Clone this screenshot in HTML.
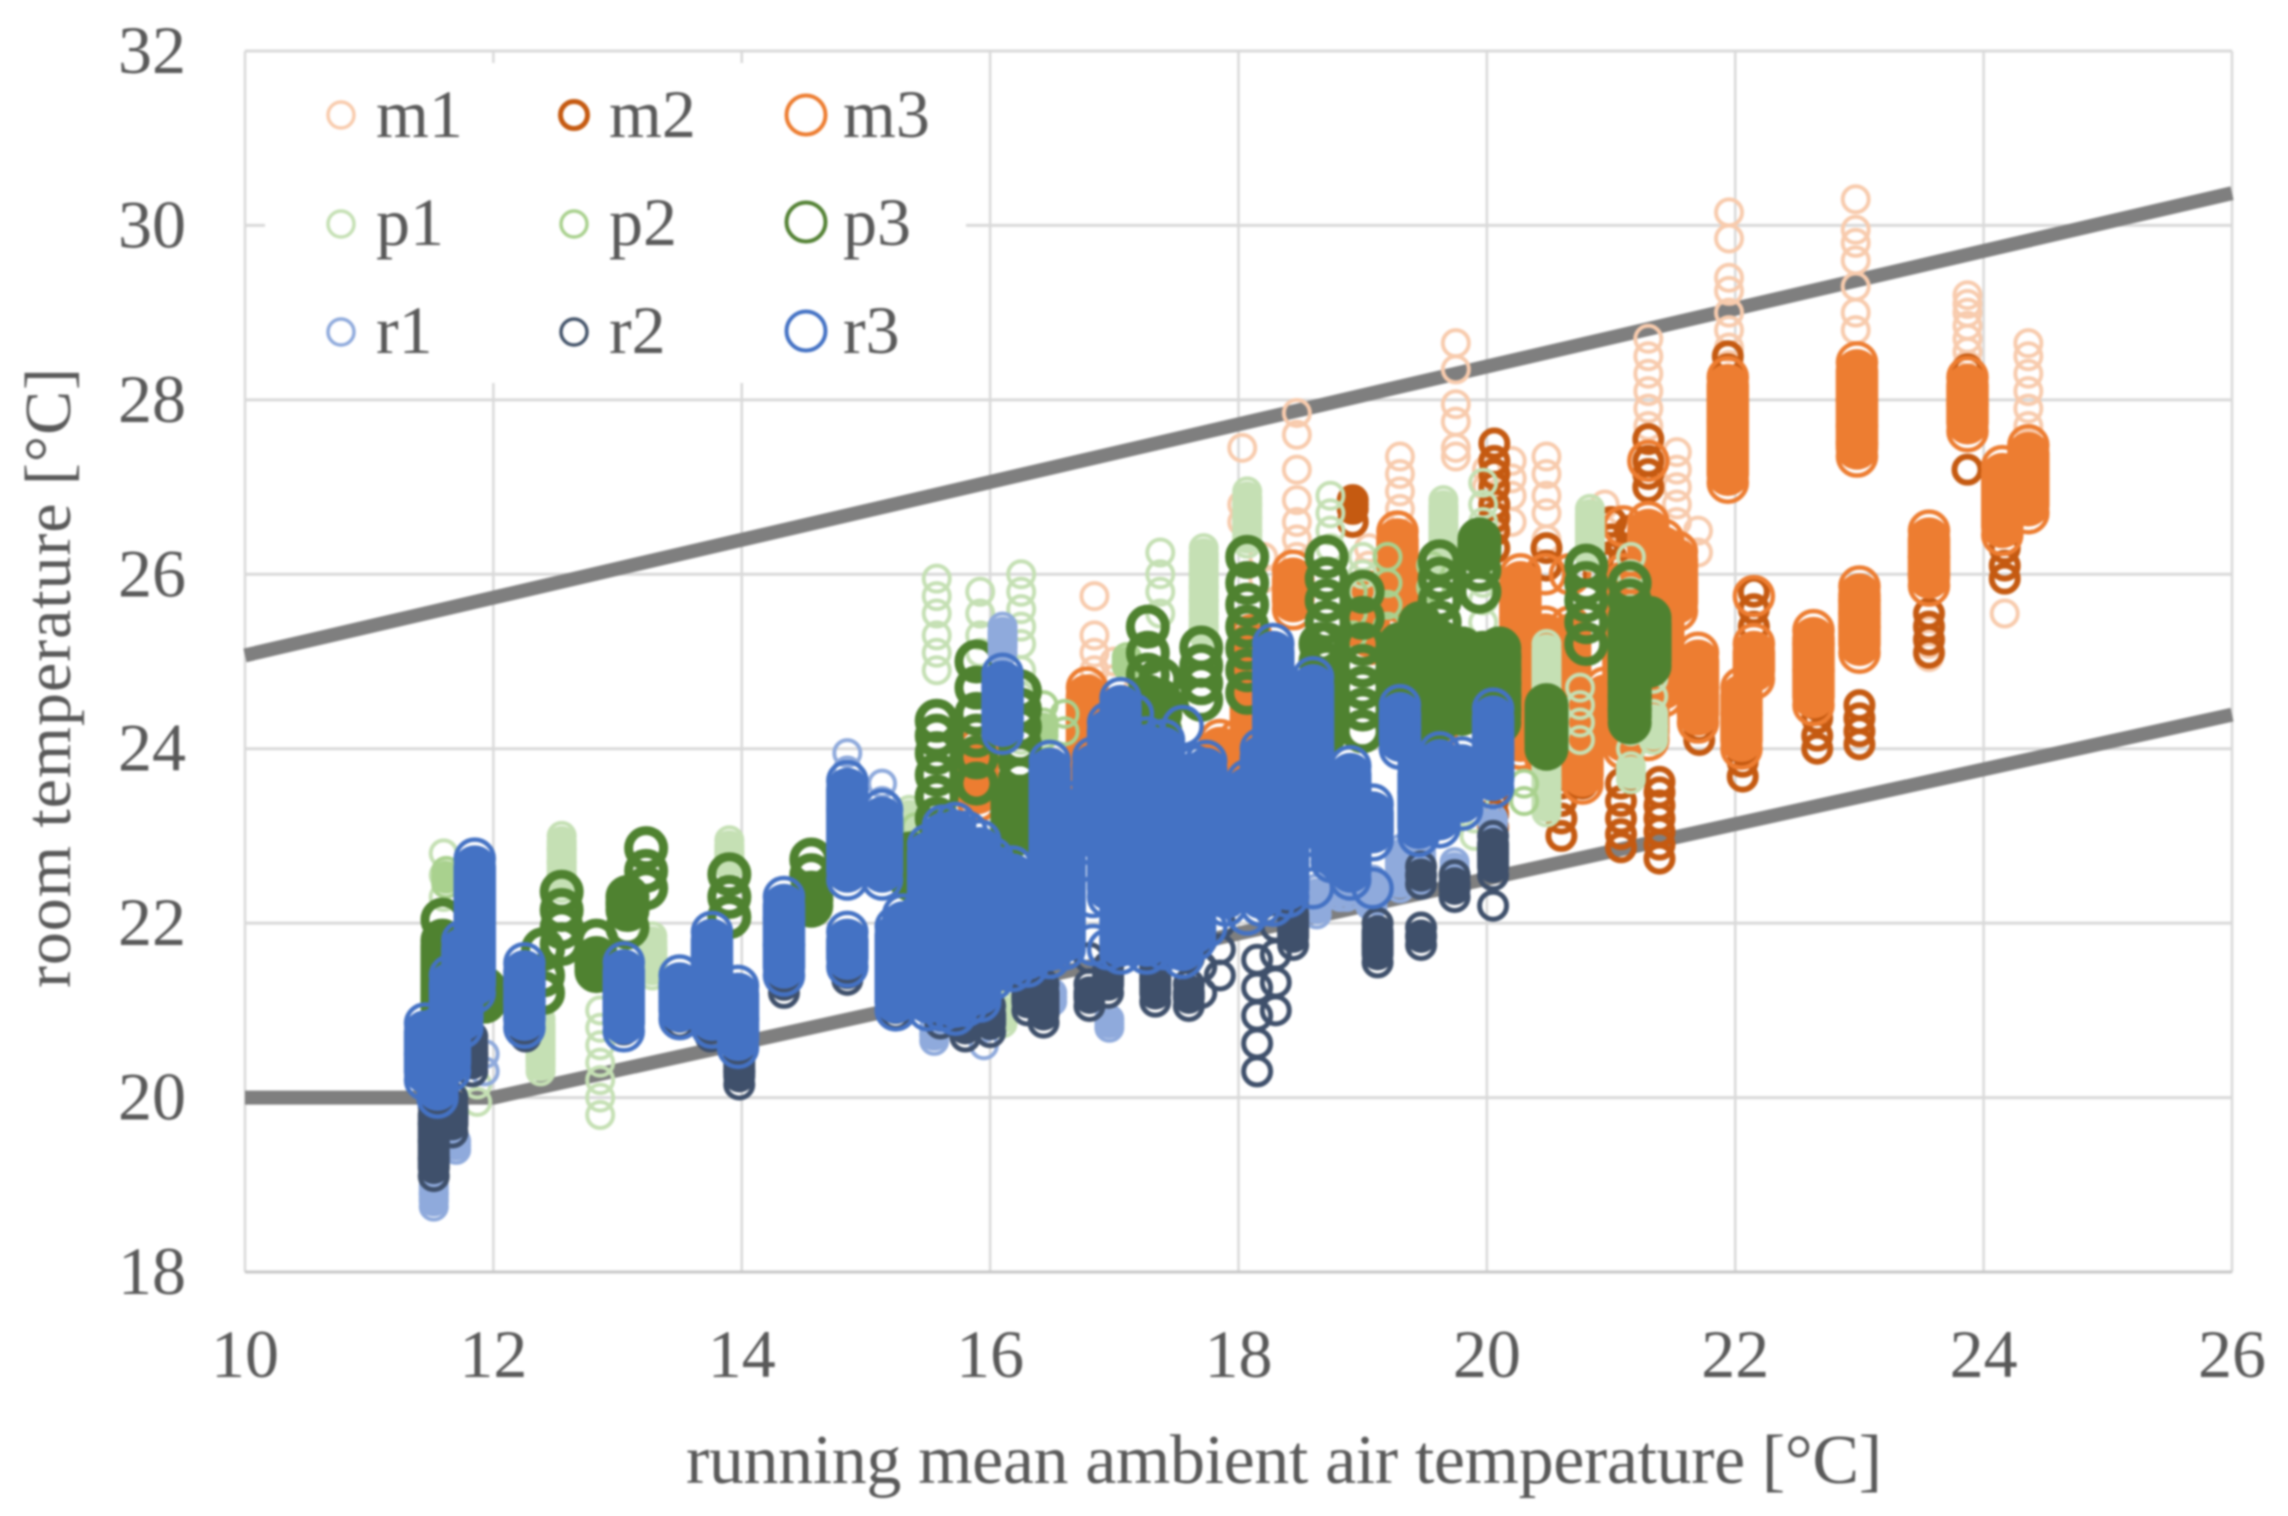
<!DOCTYPE html>
<html lang="en">
<head>
<meta charset="utf-8">
<title>Room temperature vs running mean ambient air temperature</title>
<style>
html,body{margin:0;padding:0;background:#fff;width:2288px;height:1516px;overflow:hidden}
svg{display:block;filter:blur(1.1px)}
text{font-family:"Liberation Serif",serif;fill:#595959}
</style>
</head>
<body>
<svg id="chart" xmlns="http://www.w3.org/2000/svg" width="2288" height="1516" viewBox="0 0 2288 1516">
<rect x="0" y="0" width="2288" height="1516" fill="#ffffff"/>
<g id="grid"></g>
<g id="limits"></g>
<g id="marks"></g>
<g id="ticks"></g>
<text x="1284" y="1483" font-size="70" text-anchor="middle" textLength="1196">running mean ambient air temperature [°C]</text>
<text transform="translate(70,678) rotate(-90)" font-size="66" text-anchor="middle" textLength="620">room temperature [°C]</text>
<g>
<rect x="265" y="63" width="701" height="320" fill="#ffffff"/>
<g><circle cx="341" cy="115" r="13" fill="none" stroke="#F8CBAD" stroke-width="3.5"/><text x="376" y="137" font-size="68">m1</text></g>
<g><circle cx="574" cy="115" r="13.5" fill="none" stroke="#C55A11" stroke-width="5"/><text x="609" y="137" font-size="68">m2</text></g>
<g><circle cx="806" cy="115" r="19.5" fill="none" stroke="#ED7D31" stroke-width="4"/><text x="843" y="137" font-size="68">m3</text></g>
<g><circle cx="341" cy="224" r="13" fill="none" stroke="#C5E0B4" stroke-width="3.5"/><text x="376" y="245" font-size="68">p1</text></g>
<g><circle cx="574" cy="224" r="13" fill="none" stroke="#A9D18E" stroke-width="3.5"/><text x="609" y="245" font-size="68">p2</text></g>
<g><circle cx="806" cy="222" r="19.5" fill="none" stroke="#548235" stroke-width="4"/><text x="843" y="245" font-size="68">p3</text></g>
<g><circle cx="341" cy="332" r="13" fill="none" stroke="#8FAADC" stroke-width="3.5"/><text x="376" y="353" font-size="68">r1</text></g>
<g><circle cx="574" cy="332" r="13" fill="none" stroke="#44546A" stroke-width="3.5"/><text x="609" y="353" font-size="68">r2</text></g>
<g><circle cx="806" cy="331" r="19.5" fill="none" stroke="#4472C4" stroke-width="4"/><text x="843" y="353" font-size="68">r3</text></g>
</g>
</svg>
<script>
const xTickLabels=[10,12,14,16,18,20,22,24,26];
const yTickLabels=[18,20,22,24,26,28,30,32];
const upperLimitX=[10,26];
const upperLimitY=[25.07,30.37];
const lowerLimitX=[10,12,26];
const lowerLimitY=[20,20,24.39];

const m1X=[21.95,22.97,23.87,24.36,23.56,24.17,21.3,21.53,19.75,18.47,18.03,19.3,20.48,20,20.95,16.84,17,15.9,20.2,19.05,21.7,18.2];
const m1Y=[[30.15,29.85,29.4,29.25,29,28.8,28.6,28.4],[30.3,29.95,29.8,29.6,29.3,29,28.8],[29.2,29.1,29,28.85,28.7,28.55,28.4],[28.65,28.5,28.3,28.1,27.9,27.7,27.5],[25.05,25.2,25.35],[25.55],[28.7,28.5,28.3,28.1,27.9,27.7],[27.4,27.2,27,26.8,26.6],[28.65,28.35,27.95,27.75,27.45,27.35],[27.85,27.6,27.2,26.85,26.6,26.4,26.2],[27.45,26.8,26.6],[27.35,27.15,26.95,26.75,26.55],[27.35,27.15,26.9,26.7,26.4],[27.2,27],[26.8,26.5],[25.75,25.3,25.1,24.9,24.7],[25,24.8],[24,23.8,23.6],[27.3,27.1,26.9,26.6],[26.3,26.1],[26.5,26.25],[26.2,25.95]];

const m2X=[20.6,20.77,21.08,21.39,21.71,22.06,22.66,23,22.15,23.56,23.87,23.87,21.94,21.3,24.17,20.06,18.92,20.48,21,20.05,21.15,20.9];
const m2Y=[[23,23.2,23.4,23.6],[23.6,23.75,23.95],[22.87,23.02,23.2,23.4,23.6],[22.74,22.9,23.05,23.2,23.35,23.5,23.62],[24.1,24.25,24.4],[23.68,23.85,24,24.2,24.35],[24,24.15,24.35,24.5],[24.05,24.2,24.35,24.5],[25.4,25.6,25.8],[25.1,25.25,25.4,25.55],[27.2],[28.2,28.35],[28.2,28.35,28.5],[27,27.15,27.3,27.55],[25.95,26.1,26.3],[26.3,26.5,26.65,26.8,27,27.15,27.3,27.5],[26.6,26.75,26.85],[26.1,26.3],[26.2,26.4,26.6],[23.1,23.25,23.4,23.6,23.8],[26.3,26.5],[26.2,26]];

const m3X=[21.94,22.98,23.87,24.36,24.15,23.56,23,22.63,22.15,22.05,21.7,21.53,21.3,21.1,21.42,20.27,20.47,20.67,20.77,19.28,18.44,17.85,18,16.78,15.9,18.1,19.05,19.6,20.95];
const m3Y=[[27.05,27.35,27.75,28.26],[27.35,27.5,27.7,28,28.43],[27.64,27.95,28.26],[26.7,27.1,27.48],[26.45,26.85,27.24],[25.87,26.2,26.5],[25.1,25.4,25.55,25.7,25.86],[24.5,24.9,25.2,25.36],[24.8,25.2,25.75],[24,24.4,24.7],[24.3,24.7,25.1],[25.58,25.9,26.26],[24.1,24.6,25.1,25.6,26.1,26.6,27.3],[24,24.5,25,25.5,26,26.55],[24.6,25.1,25.6,26.1,26.4],[24,24.5,25,25.5,26],[23.9,24.4,24.9,25.4,26],[23.9,24.4,24.9,25.4,26],[23.6,24,24.4],[25.6,25.85,26.1,26.3,26.49],[25.6,25.85,26.04],[23.3,23.7,24.1],[23.3,23.7,24.1],[23.6,23.95,24.25,24.5,24.7],[23.4,23.7,24],[24,24.5,25,25.3],[25.2,25.5,25.8],[24.2,24.7,25.2],[24.2,24.7]];

const p1X=[15.57,15.92,16.25,17.37,17.72,18.07,18.74,19.65,19.97,20.83,20.48,19,21.16,21.34,20.75,11.6,11.87,12.55,12.38,12.86,13.28,13.9,15.35,16.1,19.24,19.9];
const p1Y=[[25.95,25.75,25.55,25.3,25.1,24.9],[25.8,25.55,25.3,25.1],[26,25.8,25.6,25.4,25.2,24.9,24.6,24.35,24.1],[26.25,26,25.8,25.55],[26.3,26.15,26,25.85,25.7,25.55,25.4,25.3],[26.95,26.8,26.65,26.5,26.35],[26.9,26.7,26.5,26.3],[26.85,26.7,26.55,26.4,26.25,26.1],[27.05,26.8,26.6,26.3,26.1,25.9,25.7,25.45],[26.75,26.6,26.45,26.3,26.2],[23.27,23.42,23.57,23.72,23.87,24.02,24.17,24.32,24.47,24.62,24.77,24.92,25.07,25.2],[26.2,26,25.8],[26.2,26,25.8,25.6,25.4,25.2,25,24.8,24.6,24.4,24.2,24,23.8,23.65],[25.4,25.2,25,24.8,24.6,24.4,24.25,24.1],[24.7,24.5,24.3,24.1],[22.8,22.55,22.3],[19.95,20.15],[23,22.85,22.7,22.55,22.4],[20.3,20.45,20.6,20.75,20.9],[19.8,20,20.2,20.4,20.6,20.8,21],[21.4,21.55,21.7,21.85],[22.95,22.8,22.65],[23,23.15,23.3],[20.85,20.95,21.05],[25.1,24.85,24.6,24.35],[23,23.2,23.4]];

const p2X=[16.43,18.92,19.2,17.1,11.62,19.55,20.3,15.4,16.6];
const p2Y=[[24.15,24.3,24.5],[25.8,25.55,25.3],[26.2,25.9,25.65,25.4],[24.95,25.05],[22.45,22.6],[26.1,25.85],[23.4,23.6],[22.9,23.1],[24.4,24.2]];

const p3X=[11.59,11.93,12.4,12.55,12.83,13.08,13.23,13.9,14.56,15.36,15.57,15.89,16.24,16.18,17.27,17.37,17.7,18.07,18.71,19,18.66,19.3,19.62,19.46,19.8,20.1,19.94,19.97,20.48,20.8,21.15,21.31];
const p3Y=[[21.05,21.2,21.35,21.5,21.65,21.8,22.04],[21.1,21.25],[21.2,21.4,21.7],[21.76,21.95,22.15,22.36],[21.45,21.6,21.8],[21.95,22.15,22.3],[22.4,22.6,22.86],[22.07,22.3,22.56],[22.2,22.35,22.55,22.73],[22.5,22.65,22.8],[23.2,23.45,23.7,23.95,24.15,24.32],[23.6,23.9,24.15,24.4,24.7,25],[22.67,22.85,23.05,23.25,23.45,23.65,23.85,24.05,24.25,24.45,24.66],[23,23.15,23.3,23.45],[24.6,24.85,25.1,25.4],[24.2,24.4,24.55,24.8],[24.56,24.75,24.95,25.16],[24.64,24.9,25.15,25.4,25.65,25.9,26.2],[24.2,24.45,24.7,24.95,25.2,25.45,25.7,25.95,26.2],[24.2,24.45,24.7,24.95,25.2,25.5,25.8],[24.1,24.3,24.5,24.75,25,25.2],[24.3,24.45,24.6,24.75,24.9,25.05,25.2],[24.33,24.48,24.63,24.78,24.93,25.08,25.23,25.45,25.7,25.95,26.15],[24.24,24.39,24.54,24.69,24.84,24.99,25.14,25.29,25.44],[24.4,24.55,24.7,24.85,25,25.15],[24.3,24.45,24.6,24.75,24.9,25.05,25.15],[25.8,26.05,26.25,26.4],[24.7,24.85,25,25.1],[24,24.15,24.3,24.45,24.5],[25.2,25.45,25.7,25.9,26.1],[24.3,24.45,24.6,24.75,24.9,25.05,25.2,25.35,25.5,25.7,25.9],[24.95,25.1,25.25,25.4,25.5]];

const r1X=[11.52,11.7,11.93,14.85,15.13,16.1,15.55,15.95,16.96,18.87,18.63,19.08,17.4,18.82,19.06,19.47,19.74,20.05,19.3,16.5];
const r1Y=[[18.75,18.9,19.05],[19.4,19.5],[20.3,20.5],[23.95,23.75],[23.4,23.6],[25.4,25.25,25.1],[20.65,20.8],[20.6,20.8],[20.9,20.8],[22.3,22.45,22.6,22.7],[22.1,22.25,22.4],[22.2,22.35,22.5],[21.6,21.75,21.9],[22.3,22.45,22.55],[22.2,22.35,22.5],[22.5,22.65,22.8,22.95],[22.4,22.55,22.7],[23.2,23.05],[22.4,22.55,22.7,22.85],[21.1,21.2]];

const r2X=[11.52,11.67,11.83,12.26,13.05,13.5,13.75,13.98,14.34,14.85,15.24,15.6,15.8,16,16.3,16.43,16.8,16.95,17.33,17.6,17.7,17.85,18.15,18.3,18.44,19.12,19.47,19.47,19.74,20.05];
const r2Y=[[19.1,19.3,19.5,19.7,19.9],[19.6,19.8,20],[20.3,20.5,20.7],[20.7,20.85],[20.78,20.95],[20.85,21],[20.7,20.9],[20.15,20.3,20.45,20.65],[21.2,21.35,21.5],[21.35,21.5],[20.95,21.1],[20.85,21,21.1],[20.7,20.85,21],[20.75,20.9,21.05],[21,21.15,21.3],[20.86,21.05,21.3],[21.05,21.3,21.6],[21.2,21.35,21.5],[21.1,21.35,21.6,21.9],[21.05,21.3,21.6,21.9],[21.2,21.5,21.8],[21.4,21.7,22],[20.3,20.62,20.94,21.26,21.58],[21,21.32,21.64,21.96],[21.75,21.95,22.2],[21.55,21.75,22],[21.75,21.95],[22.45,22.65],[22.3,22.45,22.55],[22.2,22.55,22.8,23]];

const r3X=[11.45,11.55,11.65,11.75,11.85,12.25,13.05,13.5,13.76,13.97,14.34,14.85,14.85,15.13,15.24,15.3,15.43,15.5,15.62,15.72,15.81,15.92,16.02,16.18,16.1,16.3,16.48,16.6,16.83,16.95,17.05,17.15,17.26,17.4,17.55,17.65,17.74,17.9,18.07,18.18,18.28,18.4,18.6,18.75,18.9,18.9,19.08,19.3,19.45,19.62,19.8,20.05];
const r3Y=[[20.2,20.5,20.85],[20,20.3,20.55,20.8],[20.3,20.7,21,21.4],[20.8,21.15,21.5,21.8],[21.2,21.6,22,22.4,22.74],[20.8,21.1,21.3,21.54],[20.76,21.05,21.3,21.55],[20.9,21.1,21.4],[20.8,21.15,21.5,21.9],[20.57,20.9,21.28],[21.4,21.75,22.05,22.3],[22.5,22.9,23.3,23.63],[21.5,21.7,21.9],[22.5,22.9,23.3],[21,21.4,21.7,21.96],[21.2,21.7,22.1],[21.2,21.6,22.1],[21,21.5,22,22.5,22.9],[21,21.5,22,22.5,22.8,23.12],[20.95,21.4,21.9,22.4,22.9,23.15],[21.05,21.5,22,22.5,23.05],[21.1,21.6,22.1,22.6,22.95],[21.35,21.8,22.3,22.75],[21.45,21.9,22.3,22.65],[24.17,24.5,24.86],[21.5,22,22.5],[21.6,22.1,22.6,23.1,23.5,23.86],[21.7,22.2,22.7,23.2,23.4],[21.75,22.3,22.9,23.4,23.9],[21.7,22.3,22.8,23.3,23.8,24.3],[21.65,22.15,22.8,23.3,23.8,24.2,24.58],[21.75,22.3,22.8,23.3,23.8,24.4],[21.65,22.15,22.75,23.25,23.7,24.13],[21.7,22.2,22.7,23.2,23.7,24.1],[21.6,22.1,22.7,23.2,23.7,24.26],[21.8,22.3,22.8,23.3,23.8],[21.95,22.5,23,23.4,23.86],[22.2,22.5,22.76],[22.1,22.7,23.2,23.64],[22.2,22.7,23.2,23.7,24],[22.2,22.8,23.3,23.8,24.3,24.8,25.2],[22.3,22.8,23.3,23.8,24.3],[22.4,23,23.5,24,24.4,24.82],[22.7,23.2,23.6],[23.1,23.45,23.8],[22.5,22.8,23],[22.4,22.95,23.36],[24,24.25,24.5],[23,23.5,23.8],[23.1,23.6,23.96],[23.3,23.7,23.9],[23.55,24,24.46]];

const seriesNames=['m1','m2','m3','p1','p2','p3','r1','r2','r3'];
const seriesColors=['#F8CBAD','#C55A11','#ED7D31','#C5E0B4','#A9D18E','#4F8230','#8FAADC','#3F506B','#4472C4'];
const seriesRadius=[13,13,19,13,13,17.5,13,13.5,19];
const seriesStroke=[4,6,4.5,4,4,9,4,5,4.5];
const solidGap=[0.05,0.12,0.55,0.16,0.16,0.16,0.16,0.3,0.55];
const capShift=[4,6,8,5,5,5,5,8,8];
const seriesX=[m1X,m2X,m3X,p1X,p2X,p3X,r1X,r2X,r3X];
const seriesY=[m1Y,m2Y,m3Y,p1Y,p2Y,p3Y,r1Y,r2Y,r3Y];

const NS='http://www.w3.org/2000/svg';
const xMin=10,xMax=26,yMin=18,yMax=32;
const left=245,right=2232,top_=51,bottom=1272;
function xs(v){return left+(v-xMin)/(xMax-xMin)*(right-left);}
function ys(v){return bottom-(v-yMin)/(yMax-yMin)*(bottom-top_);}

const gridG=document.getElementById('grid');
xTickLabels.forEach(function(t){
  const l=document.createElementNS(NS,'line');
  
  
  l.setAttribute('x1',xs(t));l.setAttribute('x2',xs(t));
  l.setAttribute('y1',ys(yMin));l.setAttribute('y2',ys(yMax));
  l.setAttribute('stroke','#d9d9d9');l.setAttribute('stroke-width','2.5');
  gridG.appendChild(l);
});
yTickLabels.forEach(function(t){
  const l=document.createElementNS(NS,'line');
  
  
  l.setAttribute('x1',xs(xMin));l.setAttribute('x2',xs(xMax));
  l.setAttribute('y1',ys(t));l.setAttribute('y2',ys(t));
  l.setAttribute('stroke',t===yMin?'#c8c8c8':'#d9d9d9');l.setAttribute('stroke-width','3');
  gridG.appendChild(l);
});

const limitsG=document.getElementById('limits');
function limitLine(xa,ya){
  const p=document.createElementNS(NS,'polyline');
  
  
  p.setAttribute('points',xa.map(function(v,i){return xs(v)+','+ys(ya[i]);}).join(' '));
  p.setAttribute('fill','none');p.setAttribute('stroke','#7f7f7f');p.setAttribute('stroke-width','14');
  limitsG.appendChild(p);
}
limitLine(upperLimitX,upperLimitY);
limitLine(lowerLimitX,lowerLimitY);

const marksG=document.getElementById('marks');
seriesNames.forEach(function(name,s){
  const g=document.createElementNS(NS,'g');
  
  
  const r=seriesRadius[s],sw=seriesStroke[s],col=seriesColors[s],shift=capShift[s];
  seriesX[s].forEach(function(x,c){
    const vals=seriesY[s][c].slice().sort(function(a,b){return a-b;});
    let start=0;
    vals.forEach(function(y,i){
      if(i===vals.length-1||vals[i+1]-y>solidGap[s]){
        if(i>start){
          let lo=ys(vals[start])-shift,hi=ys(y)+shift;
          if(hi>lo){const mid=(lo+hi)/2;lo=mid;hi=mid;}
          const b=document.createElementNS(NS,'line');
          
          
          b.setAttribute('x1',xs(x));b.setAttribute('x2',xs(x));
          b.setAttribute('y1',lo);b.setAttribute('y2',hi);
          b.setAttribute('stroke',col);b.setAttribute('stroke-width',2*r+sw);
          b.setAttribute('stroke-linecap','round');
          g.appendChild(b);
        }
        start=i+1;
      }
      const m=document.createElementNS(NS,'circle');
      
      
      m.setAttribute('cx',xs(x));m.setAttribute('cy',ys(y));m.setAttribute('r',r);
      m.setAttribute('fill','none');m.setAttribute('stroke',col);m.setAttribute('stroke-width',sw);
      g.appendChild(m);
    });
  });
  marksG.appendChild(g);
});

const ticksG=document.getElementById('ticks');
xTickLabels.forEach(function(t){
  const e=document.createElementNS(NS,'text');
  
  
  e.setAttribute('x',xs(t));e.setAttribute('y',1377);
  e.setAttribute('font-size','68');e.setAttribute('text-anchor','middle');
  e.textContent=t;
  ticksG.appendChild(e);
});
yTickLabels.forEach(function(t){
  const e=document.createElementNS(NS,'text');
  
  
  e.setAttribute('x',186);e.setAttribute('y',ys(t)+22);
  e.setAttribute('font-size','68');e.setAttribute('text-anchor','end');
  e.textContent=t;
  ticksG.appendChild(e);
});
</script>
</body>
</html>
